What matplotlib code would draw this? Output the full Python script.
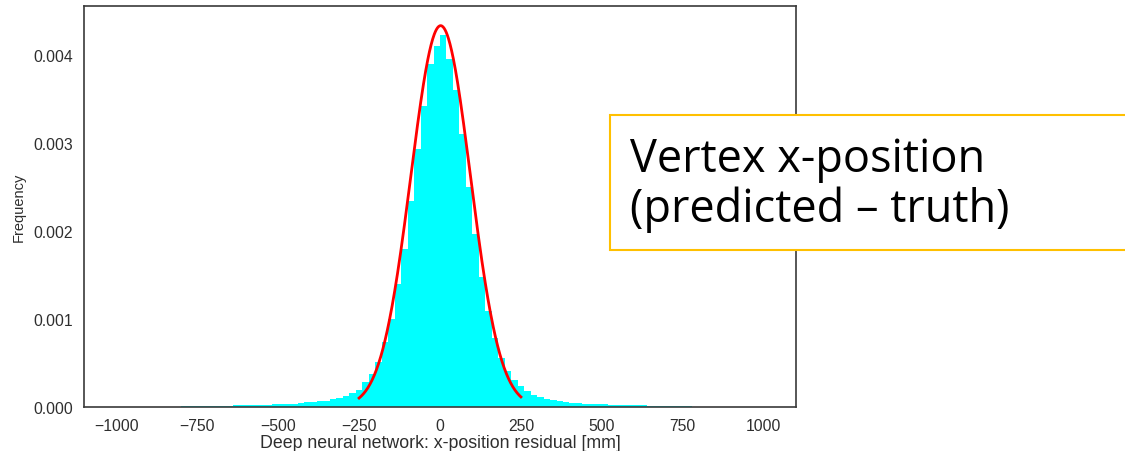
import matplotlib
matplotlib.use('Agg')
import matplotlib.pyplot as plt
from matplotlib.patches import Rectangle
import numpy as np

# histogram: 100 bins of 20 mm from -1000 to 1000 (density values)
bin_edges = list(range(-1000, 1001, 20))
bin_heights = [
    # -1000 .. -820
    0.000003, 0.000003, 0.000003, 0.000003, 0.000004, 0.000004, 0.000004, 0.000004, 0.000004, 0.000005,
    # -800 .. -620
    0.000012, 0.000006, 0.000012, 0.000013, 0.000014, 0.000015, 0.000016, 0.000017, 0.000019, 0.000019,
    # -600 .. -420
    0.000023, 0.000023, 0.000027, 0.000027, 0.000030, 0.000030, 0.000038, 0.000038, 0.000049, 0.000057,
    # -400 .. -220
    0.000057, 0.000072, 0.000072, 0.000091, 0.000102, 0.000129, 0.000155, 0.000193, 0.000280, 0.000370,
    # -200 .. -20
    0.000510, 0.000735, 0.001000, 0.001400, 0.001800, 0.002340, 0.002930, 0.003420, 0.003900, 0.004100,
    # 0 .. 180
    0.004230, 0.003960, 0.003600, 0.003100, 0.002500, 0.001970, 0.001480, 0.001090, 0.000790, 0.000560,
    # 200 .. 380
    0.000410, 0.000310, 0.000242, 0.000178, 0.000136, 0.000110, 0.000091, 0.000076, 0.000064, 0.000057,
    # 400 .. 580
    0.000049, 0.000042, 0.000038, 0.000036, 0.000032, 0.000030, 0.000028, 0.000026, 0.000024, 0.000022,
    # 600 .. 780
    0.000020, 0.000018, 0.000016, 0.000014, 0.000013, 0.000012, 0.000006, 0.000006, 0.000012, 0.000004,
    # 800 .. 980
    0.000004, 0.000004, 0.000004, 0.000004, 0.000003, 0.000003, 0.000003, 0.000003, 0.000003, 0.000003,
]

# gaussian fit drawn over the core
fit_mu = 2.0
fit_sigma = 92.0
fit_range = (-250, 250)

x_ticks = [-1000, -750, -500, -250, 0, 250, 500, 750, 1000]
y_ticks = [0.000, 0.001, 0.002, 0.003, 0.004]

plt.rcParams['font.family'] = ['Liberation Sans', 'DejaVu Sans']
text_color = '#2e2e2e'

fig = plt.figure(figsize=(11.25, 4.52), dpi=100)
ax = fig.add_axes([84 / 1125, 44 / 452, 712 / 1125, 401 / 452])

# histogram bars
ax.bar(bin_edges[:-1], bin_heights, width=20, align='edge', color='#00FFFF', linewidth=0)

# fitted normal curve
xs = np.linspace(fit_range[0], fit_range[1], 300)
ys = np.exp(-0.5 * ((xs - fit_mu) / fit_sigma) ** 2) / (fit_sigma * np.sqrt(2 * np.pi))
ax.plot(xs, ys, color='red', linewidth=2)

ax.set_xlim(-1100, 1100)
ax.set_ylim(0, 0.00456)
ax.set_xticks(x_ticks)
ax.set_xticklabels([f'{t:d}'.replace('-', '\u2212') for t in x_ticks])
ax.set_yticks(y_ticks)
ax.set_yticklabels([f'{t:.3f}' for t in y_ticks])
ax.tick_params(length=0, labelsize=11.3, colors=text_color, pad=8)
for sp in ax.spines.values():
    sp.set_color('#3a3a3a')
    sp.set_linewidth(1.2)

ax.set_xlabel('Deep neural network: x-position residual [mm]', fontsize=12.8, color=text_color, labelpad=1)
ax.set_ylabel('Frequency', fontsize=10.5, color=text_color, labelpad=5)

# annotation box on top of the figure
box = Rectangle((610 / 1125, 1 - 251 / 452), 0.5, 135 / 452, transform=fig.transFigure,
                facecolor='white', edgecolor='#FFC000', linewidth=1.5, zorder=10, clip_on=False)
fig.patches.append(box)
fig.text(630 / 1125, 1 - 185 / 452, 'Vertex x-position\n(predicted \u2013 truth)',
         fontsize=32.5, family=['Open Sans', 'DejaVu Sans'], color='black',
         va='center', ha='left', linespacing=1.12, zorder=11)

fig.savefig('out.png', dpi=100)
